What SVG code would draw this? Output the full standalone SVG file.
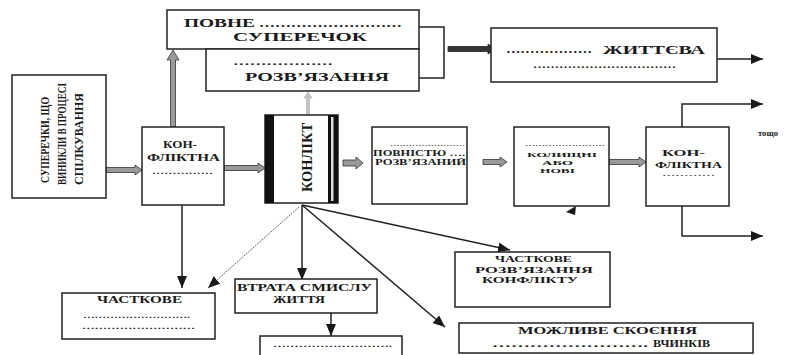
<svg xmlns="http://www.w3.org/2000/svg" width="804" height="355" viewBox="0 0 804 355">
<defs>
<style>
.box{fill:#fff;stroke:#222;stroke-width:1.5}
.t{font-family:"Liberation Serif","Times New Roman",serif;font-weight:bold;fill:#1a1a1a}
.c{text-anchor:middle}
.ln{stroke:#222;stroke-width:1.5;fill:none}
.blk{fill:#9a9a9a;stroke:#333;stroke-width:0.8}
.dk{fill:#333;stroke:#222;stroke-width:0.8}
</style>
<marker id="ah" markerUnits="userSpaceOnUse" markerWidth="12" markerHeight="10" refX="12" refY="5" orient="auto">
<path d="M0,0 L12,5 L0,10 z" fill="#1a1a1a"/>
</marker>
</defs>
<rect width="804" height="355" fill="#fff"/>

<g id="connectors">
<path class="blk" d="M106,167.5 H135 V165 L142,170 L135,175 V172.5 H106 Z"/>
<path class="blk" d="M224,165.5 H258 V163 L265,168 L258,173 V170.5 H224 Z"/>
<path class="blk" d="M343,160 H356 V157 L363,163 L356,169 V166 H343 Z"/>
<path class="blk" d="M483,159.5 H500 V157 L507,162 L500,167 V164.5 H483 Z"/>
<path class="blk" d="M609,159.5 H639 V157 L646,162 L639,167 V164.5 H609 Z"/>
<path class="blk" d="M170.5,127 V60 H167 L173,50 L179,60 H175.5 V127 Z"/>
<path d="M306.5,115 V98 H304 L308,92 L312,98 H309.5 V115 Z" fill="#c4c4c4" stroke="#aaa" stroke-width="0.6"/>
<path class="dk" d="M448,46.5 H488 V44 L495,49 L488,54 V51.5 H448 Z"/>
<path class="ln" d="M717,59 H763" marker-end="url(#ah)"/>
<path class="ln" d="M682,127 V104 H763" marker-end="url(#ah)"/>
<path class="ln" d="M682,206 V236 H763" marker-end="url(#ah)"/>
<path class="ln" d="M182,205 V288" marker-end="url(#ah)"/>
<path d="M299,207 L208,288" stroke="#555" stroke-width="0.9" stroke-dasharray="2,1" fill="none" marker-end="url(#ah)"/>
<path class="ln" d="M302,205 V280" marker-end="url(#ah)"/>
<path class="ln" d="M302,205 L510,250" marker-end="url(#ah)"/>
<path class="ln" d="M302,205 L445,327" stroke-width="1.8" marker-end="url(#ah)"/>
<path class="ln" d="M331,313 V336" marker-end="url(#ah)"/>
<polygon points="566,212 576,206 575,215" fill="#1a1a1a"/>
</g>

<g id="n_source">
<rect class="box" x="12" y="75" width="94" height="123"/>
<text class="t c" font-size="12" textLength="86" lengthAdjust="spacingAndGlyphs" transform="translate(49,140) rotate(-90)">СУПЕРЕЧКИ, ЩО</text>
<text class="t c" font-size="12" textLength="102" lengthAdjust="spacingAndGlyphs" transform="translate(66,134) rotate(-90)">ВИНИКЛИ В ПРОЦЕСІ</text>
<text class="t c" font-size="12" textLength="92" lengthAdjust="spacingAndGlyphs" transform="translate(83,139) rotate(-90)">СПІЛКУВАННЯ</text>
</g>

<g id="n_konf1">
<rect class="box" x="142" y="127" width="82" height="78"/>
<text class="t c" x="180" y="148" font-size="10" textLength="34" lengthAdjust="spacingAndGlyphs">КОН-</text>
<text class="t c" x="183.5" y="161" font-size="10" textLength="73" lengthAdjust="spacingAndGlyphs">ФЛІКТНА</text>
<text class="t c" x="182.5" y="174" font-size="8" textLength="61" lengthAdjust="spacingAndGlyphs">……………</text>
</g>

<g id="n_povne">
<rect class="box" x="167" y="10" width="252" height="39"/>
<text class="t" x="184" y="27" font-size="13" textLength="71" lengthAdjust="spacingAndGlyphs">ПОВНЕ</text>
<text class="t" x="259" y="27" font-size="12" textLength="143" lengthAdjust="spacingAndGlyphs">………………………</text>
<text class="t c" x="300" y="41" font-size="13" textLength="134" lengthAdjust="spacingAndGlyphs">СУПЕРЕЧОК</text>
</g>

<g id="n_rozv">
<rect class="box" x="206" y="49" width="213" height="42"/>
<path class="ln" d="M419,27 H444 V78 H419"/>
<text class="t c" x="283" y="65" font-size="10" textLength="100" lengthAdjust="spacingAndGlyphs">………………</text>
<text class="t c" x="317" y="81" font-size="13" textLength="144" lengthAdjust="spacingAndGlyphs">РОЗВ’ЯЗАННЯ</text>
</g>

<g id="n_zhyt">
<rect class="box" x="491" y="28" width="226" height="54"/>
<text class="t" x="506" y="53" font-size="12" textLength="86" lengthAdjust="spacingAndGlyphs">………………</text>
<text class="t" x="603" y="54" font-size="13" textLength="102" lengthAdjust="spacingAndGlyphs">ЖИТТЄВА</text>
<text class="t" x="533" y="68" font-size="10" textLength="143" lengthAdjust="spacingAndGlyphs">……………………………</text>
</g>

<g id="n_konflikt">
<rect class="box" x="265" y="115" width="73" height="88"/>
<rect x="265" y="115" width="9" height="88" fill="#111"/>
<rect x="328" y="115" width="10" height="88" fill="#111"/>
<rect x="331" y="117" width="2.5" height="84" fill="#ddd"/>
<text class="t c" font-size="15" textLength="69" lengthAdjust="spacingAndGlyphs" transform="translate(312,157.5) rotate(-90)">КОНЛІКТ</text>
</g>

<g id="n_povnistyu">
<rect class="box" x="372" y="127" width="95" height="77"/>
<text class="t" x="390" y="146" font-size="7" textLength="75" lengthAdjust="spacingAndGlyphs">……………………</text>
<text class="t" x="373" y="156" font-size="7.5" textLength="92" lengthAdjust="spacingAndGlyphs">ПОВНІСТЮ ….</text>
<text class="t" x="375" y="164.5" font-size="7.5" textLength="91" lengthAdjust="spacingAndGlyphs">РОЗВ’ЯЗАНИЙ</text>
</g>

<g id="n_kolyshni">
<rect class="box" x="514" y="127" width="95" height="79"/>
<text class="t" x="525" y="146" font-size="7" textLength="80" lengthAdjust="spacingAndGlyphs">……………………</text>
<text class="t c" x="562" y="156.5" font-size="7" textLength="70" lengthAdjust="spacingAndGlyphs">КОЛИЩНІ</text>
<text class="t c" x="557.5" y="164.5" font-size="7" textLength="31" lengthAdjust="spacingAndGlyphs">АБО</text>
<text class="t c" x="557.5" y="172.5" font-size="7" textLength="35" lengthAdjust="spacingAndGlyphs">НОВІ</text>
</g>

<g id="n_konf2">
<rect class="box" x="646" y="127" width="83" height="79"/>
<text class="t c" x="683.5" y="156" font-size="9" textLength="43" lengthAdjust="spacingAndGlyphs">КОН-</text>
<text class="t c" x="688.5" y="167.5" font-size="9" textLength="67" lengthAdjust="spacingAndGlyphs">ФЛІКТНА</text>
<text class="t c" x="688.5" y="176" font-size="7" textLength="53" lengthAdjust="spacingAndGlyphs">…………</text>
</g>

<text class="t" x="758" y="136" font-size="8.5" textLength="20" lengthAdjust="spacingAndGlyphs">тощо</text>

<g id="n_chastk">
<rect class="box" x="62" y="293" width="153" height="46"/>
<text class="t c" x="139.5" y="303" font-size="10" textLength="85" lengthAdjust="spacingAndGlyphs">ЧАСТКОВЕ</text>
<text class="t" x="83" y="318" font-size="8" textLength="107" lengthAdjust="spacingAndGlyphs">……………………….</text>
<text class="t" x="82" y="329" font-size="8" textLength="113" lengthAdjust="spacingAndGlyphs">………………………</text>
</g>

<g id="n_vtrata">
<rect class="box" x="235" y="279" width="142" height="34"/>
<text class="t c" x="304.5" y="291" font-size="11" textLength="135" lengthAdjust="spacingAndGlyphs">ВТРАТА СМИСЛУ</text>
<text class="t c" x="299" y="303" font-size="11" textLength="52" lengthAdjust="spacingAndGlyphs">ЖИТТЯ</text>
</g>

<g id="n_bottom">
<rect class="box" x="260" y="336" width="142" height="25"/>
<text class="t" x="273" y="347" font-size="8" textLength="119" lengthAdjust="spacingAndGlyphs">……………………….</text>
</g>

<g id="n_chastk_rozv">
<rect class="box" x="455" y="252" width="155" height="55"/>
<text class="t c" x="533.5" y="262" font-size="9" textLength="77" lengthAdjust="spacingAndGlyphs">ЧАСТКОВЕ</text>
<text class="t c" x="534" y="272.5" font-size="9" textLength="118" lengthAdjust="spacingAndGlyphs">РОЗВ’ЯЗАННЯ</text>
<text class="t c" x="530" y="283" font-size="9" textLength="96" lengthAdjust="spacingAndGlyphs">КОНФЛІКТУ</text>
</g>

<g id="n_mozhl">
<rect class="box" x="459" y="323" width="294" height="30"/>
<text class="t c" x="607.5" y="334" font-size="10" textLength="179" lengthAdjust="spacingAndGlyphs">МОЖЛИВЕ СКОЄННЯ</text>
<text class="t" x="492" y="347" font-size="10" textLength="156" lengthAdjust="spacingAndGlyphs">…………………….</text>
<text class="t" x="653" y="347" font-size="10" textLength="57" lengthAdjust="spacingAndGlyphs">ВЧИНКІВ</text>
</g>
</svg>
